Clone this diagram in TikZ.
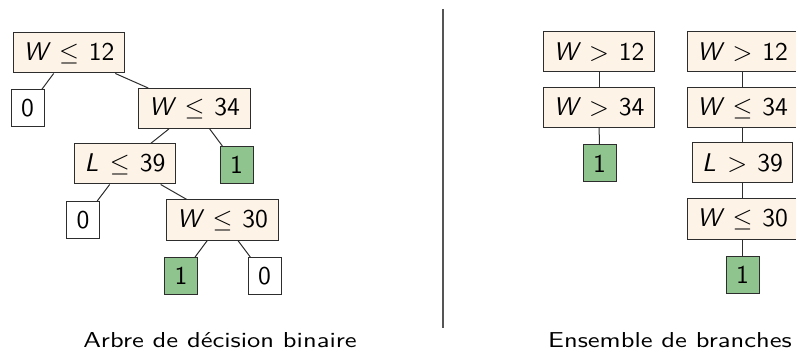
\documentclass[tikz,border=0pt]{standalone}
\usepackage{amsmath}
\usepackage{graphicx}
\definecolor{condfill}{RGB}{253,243,231}
\definecolor{leaffill}{RGB}{144,196,142}
\definecolor{edgecol}{RGB}{45,45,45}
\newcommand{\vW}{\mbox{\sffamily\itshape W}}
\newcommand{\vL}{\mbox{\sffamily\itshape L}}
\newcommand{\nm}[1]{\mbox{\sffamily #1}}
\newcommand{\lesp}{\mkern3mu\leq\mkern2mu}
\newcommand{\gtsp}{\mkern3mu>\mkern2mu}
\newcommand{\btx}[1]{\scalebox{1.92}{\fontsize{10}{12}\selectfont\sffamily #1}}
\newcommand{\ctx}[1]{\scalebox{1.99}[1.62]{\fontsize{10}{12}\selectfont\sffamily #1}}
\begin{document}
\begin{tikzpicture}[x=0.75pt,y=-0.75pt,
  cond/.style={draw=edgecol,fill=condfill,line width=0.75pt,inner xsep=7.5pt,inner ysep=0pt,minimum height=30pt},
  leafbox/.style={draw=edgecol,line width=0.75pt,inner sep=0pt,minimum width=24.75pt,minimum height=27.75pt},
  posleaf/.style={leafbox,fill=leaffill},
  negleaf/.style={leafbox,fill=white},
  link/.style={draw=edgecol,line width=0.75pt},
  caption/.style={anchor=base,inner sep=0pt}]
\useasboundingbox (0,0) rectangle (796,356);
% left tree
\node[cond] (a) at (69,53) {\btx{$\vW \lesp \nm{12}$}};
\node[negleaf] (a0) at (27.5,108.5) {\btx{0}};
\node[cond] (b) at (194.5,108.5) {\btx{$\vW \lesp \nm{34}$}};
\node[cond] (c) at (125,164) {\btx{$\vL \lesp \nm{39}$}};
\node[posleaf] (b1) at (236.5,165) {\btx{1}};
\node[negleaf] (c0) at (83,220) {\btx{0}};
\node[cond] (d) at (222.5,220) {\btx{$\vW \lesp \nm{30}$}};
\node[posleaf] (d1) at (181,276) {\btx{1}};
\node[negleaf] (d0) at (264.5,276) {\btx{0}};
\draw[link] (a) -- (a0);
\draw[link] (a) -- (b);
\draw[link] (b) -- (c);
\draw[link] (b) -- (b1);
\draw[link] (c) -- (c0);
\draw[link] (c) -- (d);
\draw[link] (d) -- (d1);
\draw[link] (d) -- (d0);
% separator
\coordinate (sepT) at (443,9);
\coordinate (sepB) at (443,328);
\draw[draw={rgb,255:red,85;green,85;blue,85},line width=1pt] (sepT) -- (sepB);
% right branches
\node[cond] (p1) at (599,52) {\btx{$\vW \gtsp \nm{12}$}};
\node[cond] (p2) at (599,107.5) {\btx{$\vW \gtsp \nm{34}$}};
\node[posleaf] (p3) at (599.5,163.5) {\btx{1}};
\draw[link] (p1) -- (p2);
\draw[link] (p2) -- (p3);
\node[cond] (q1) at (742.5,52) {\btx{$\vW \gtsp \nm{12}$}};
\node[cond] (q2) at (742.5,108) {\btx{$\vW \lesp \nm{34}$}};
\node[cond] (q3) at (742.5,163) {\btx{$\vL \gtsp \nm{39}$}};
\node[cond] (q4) at (742.5,219) {\btx{$\vW \lesp \nm{30}$}};
\node[posleaf] (q5) at (742.5,275) {\btx{1}};
\draw[link] (q1) -- (q2);
\draw[link] (q2) -- (q3);
\draw[link] (q3) -- (q4);
\draw[link] (q4) -- (q5);
% captions
\node[caption] (capL) at (220,347) {\ctx{Arbre de décision binaire}};
\node[caption] (capR) at (670,347) {\ctx{Ensemble de branches}};
\end{tikzpicture}
\end{document}
